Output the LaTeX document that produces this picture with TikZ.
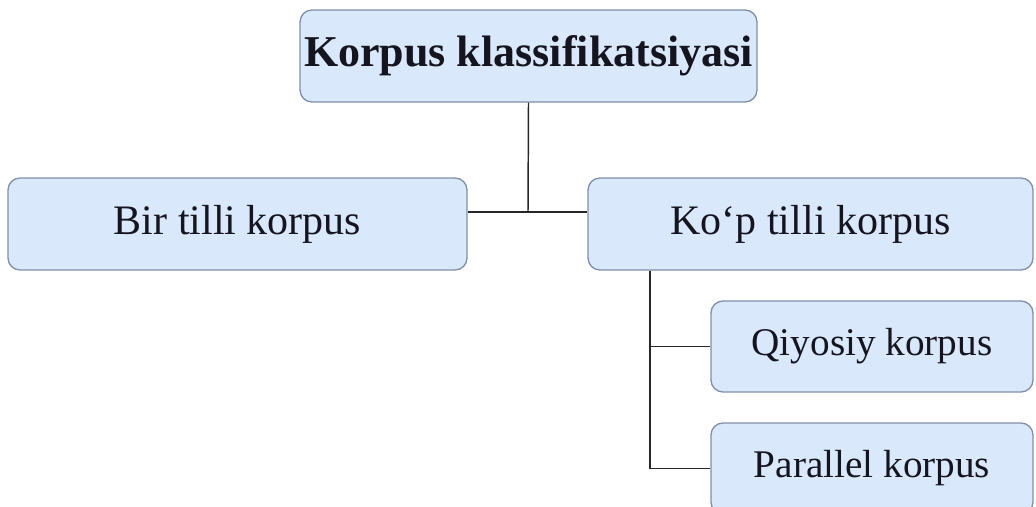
\documentclass[tikz,border=0pt]{standalone}
\usepackage{fontspec}
\setmainfont{Liberation Serif}
\definecolor{boxfill}{HTML}{DAE8FC}
\definecolor{boxline}{HTML}{7F8FA6}
\definecolor{txt}{HTML}{151520}
\tikzset{
  cbox/.style={draw=boxline, fill=boxfill, line width=1pt, rounded corners=9pt,
    inner sep=0pt, text=txt, align=center},
  conn/.style={draw=black!85, line width=1.1pt}
}
\begin{document}
\begin{tikzpicture}[x=0.75pt,y=-0.75pt]
\useasboundingbox (0,0) rectangle (1036,507);
\clip (0,0) rectangle (1036,507);
\node[cbox, minimum width=457*0.75pt, minimum height=92*0.75pt, font=\fontsize{33}{36}\selectfont\bfseries] (top) at (528.5,56) {Korpus klassifikatsiyasi};
\node[cbox, minimum width=459*0.75pt, minimum height=92*0.75pt, font=\fontsize{31.5}{34}\selectfont] (bir) at (237.5,224) {Bir tilli korpus};
\node[cbox, minimum width=445*0.75pt, minimum height=92*0.75pt, font=\fontsize{31.5}{34}\selectfont] (kop) at (810.5,224) {Ko‘p tilli korpus};
\node[cbox, minimum width=322*0.75pt, minimum height=91*0.75pt, font=\fontsize{29.4}{32}\selectfont] (qiy) at (872,346.5) {Qiyosiy korpus};
\node[cbox, minimum width=322*0.75pt, minimum height=91*0.75pt, font=\fontsize{29.4}{32}\selectfont] (par) at (872,468.5) {Parallel korpus};
\coordinate (j) at (528,212);
\coordinate (k) at (650,270);
\draw[conn] (top.south) -- (j);
\draw[conn] (bir.east |- j) -- (kop.west |- j);
\draw[conn] (k |- kop.south) |- (par.west);
\draw[conn] (k |- qiy.west) -- (qiy.west);
\end{tikzpicture}
\end{document}
